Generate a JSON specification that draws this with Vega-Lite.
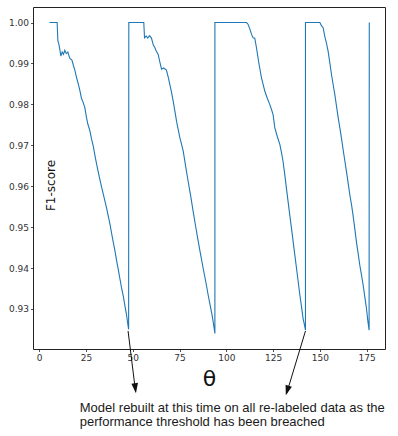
{
  "$schema": "https://vega.github.io/schema/vega-lite/v6.json",
  "width": 352,
  "height": 342,
  "autosize": {"type": "none"},
  "padding": {"left": 33, "top": 7, "right": 13, "bottom": 87},
  "background": "white",
  "config": {
    "view": {"stroke": "#222", "strokeWidth": 1},
    "axis": {
      "domain": false,
      "grid": false,
      "ticks": true,
      "tickSize": 2.5,
      "tickWidth": 0.8,
      "tickColor": "#222",
      "labelFont": "DejaVu Sans",
      "labelFontSize": 9,
      "labelColor": "#333",
      "labelPadding": 2,
      "titleFont": "DejaVu Sans",
      "titleFontWeight": "normal",
      "titleColor": "#111"
    }
  },
  "datasets": {
    "series": [
      {"i":1,"x":5.5,"f1":1.0},{"i":2,"x":9.6,"f1":1.0},{"i":3,"x":10.0,"f1":0.9955},{"i":4,"x":10.5,"f1":0.9948},
      {"i":5,"x":11.0,"f1":0.9935},{"i":6,"x":11.6,"f1":0.9918},{"i":7,"x":12.3,"f1":0.9928},{"i":8,"x":13.0,"f1":0.9922},
      {"i":9,"x":13.7,"f1":0.9932},{"i":10,"x":14.5,"f1":0.9924},{"i":11,"x":15.3,"f1":0.9928},{"i":12,"x":16.4,"f1":0.9912},
      {"i":13,"x":17.5,"f1":0.9908},{"i":14,"x":18.3,"f1":0.9895},{"i":15,"x":19.0,"f1":0.9885},{"i":16,"x":20.0,"f1":0.9865},
      {"i":17,"x":20.8,"f1":0.9852},{"i":18,"x":21.7,"f1":0.9835},{"i":19,"x":22.6,"f1":0.9815},{"i":20,"x":23.5,"f1":0.9805},
      {"i":21,"x":24.4,"f1":0.9792},{"i":22,"x":25.2,"f1":0.977},{"i":23,"x":26.0,"f1":0.9752},{"i":24,"x":27.1,"f1":0.9735},
      {"i":25,"x":28.0,"f1":0.9715},{"i":26,"x":28.9,"f1":0.9698},{"i":27,"x":30.0,"f1":0.967},{"i":28,"x":31.5,"f1":0.9636},
      {"i":29,"x":32.5,"f1":0.9615},{"i":30,"x":33.5,"f1":0.9595},{"i":31,"x":34.7,"f1":0.9572},{"i":32,"x":36.0,"f1":0.9547},
      {"i":33,"x":37.0,"f1":0.9525},{"i":34,"x":37.8,"f1":0.9508},{"i":35,"x":38.7,"f1":0.9485},{"i":36,"x":39.5,"f1":0.9465},
      {"i":37,"x":40.5,"f1":0.9442},{"i":38,"x":41.3,"f1":0.942},{"i":39,"x":42.2,"f1":0.9398},{"i":40,"x":43.1,"f1":0.9375},
      {"i":41,"x":44.0,"f1":0.9352},{"i":42,"x":45.0,"f1":0.933},{"i":43,"x":45.8,"f1":0.9308},{"i":44,"x":46.7,"f1":0.9285},
      {"i":45,"x":47.3,"f1":0.9265},{"i":46,"x":47.8,"f1":0.925},
      {"i":47,"x":47.9,"f1":1.0},{"i":48,"x":55.9,"f1":1.0},{"i":49,"x":56.3,"f1":0.9963},{"i":50,"x":57.2,"f1":0.9967},
      {"i":51,"x":58.0,"f1":0.9962},{"i":52,"x":59.0,"f1":0.9968},{"i":53,"x":60.0,"f1":0.9962},{"i":54,"x":61.0,"f1":0.9945},
      {"i":55,"x":61.8,"f1":0.9939},{"i":56,"x":62.6,"f1":0.993},{"i":57,"x":63.6,"f1":0.9922},{"i":58,"x":64.4,"f1":0.9905},
      {"i":59,"x":65.4,"f1":0.9886},{"i":60,"x":66.5,"f1":0.9889},{"i":61,"x":68.0,"f1":0.9884},{"i":62,"x":69.0,"f1":0.9866},
      {"i":63,"x":69.8,"f1":0.9849},{"i":64,"x":70.7,"f1":0.983},{"i":65,"x":71.6,"f1":0.9808},{"i":66,"x":72.5,"f1":0.9784},
      {"i":67,"x":73.4,"f1":0.9759},{"i":68,"x":74.3,"f1":0.9738},{"i":69,"x":75.2,"f1":0.9718},{"i":70,"x":76.1,"f1":0.9702},
      {"i":71,"x":77.0,"f1":0.9685},{"i":72,"x":78.3,"f1":0.9648},{"i":73,"x":79.6,"f1":0.9612},{"i":74,"x":81.0,"f1":0.9575},
      {"i":75,"x":82.3,"f1":0.9538},{"i":76,"x":83.6,"f1":0.9502},{"i":77,"x":85.0,"f1":0.9465},{"i":78,"x":86.3,"f1":0.9432},
      {"i":79,"x":87.6,"f1":0.94},{"i":80,"x":89.0,"f1":0.9367},{"i":81,"x":90.3,"f1":0.9334},{"i":82,"x":91.4,"f1":0.9308},
      {"i":83,"x":92.4,"f1":0.9285},{"i":84,"x":93.2,"f1":0.9262},{"i":85,"x":93.9,"f1":0.924},
      {"i":86,"x":93.9,"f1":1.0},{"i":87,"x":110.8,"f1":1.0},{"i":88,"x":111.6,"f1":0.9996},{"i":89,"x":112.5,"f1":0.9985},
      {"i":90,"x":113.5,"f1":0.9971},{"i":91,"x":114.3,"f1":0.9963},{"i":92,"x":115.2,"f1":0.9962},{"i":93,"x":116.1,"f1":0.9939},
      {"i":94,"x":116.8,"f1":0.9918},{"i":95,"x":117.5,"f1":0.9898},{"i":96,"x":118.8,"f1":0.9865},{"i":97,"x":119.7,"f1":0.9848},
      {"i":98,"x":120.6,"f1":0.9832},{"i":99,"x":121.9,"f1":0.9815},{"i":100,"x":123.2,"f1":0.98},{"i":101,"x":124.1,"f1":0.9788},
      {"i":102,"x":125.0,"f1":0.9775},{"i":103,"x":125.9,"f1":0.9743},{"i":104,"x":127.2,"f1":0.9722},{"i":105,"x":128.6,"f1":0.9702},
      {"i":106,"x":129.5,"f1":0.9682},{"i":107,"x":130.3,"f1":0.9661},{"i":108,"x":131.2,"f1":0.963},{"i":109,"x":132.1,"f1":0.9596},
      {"i":110,"x":133.0,"f1":0.9563},{"i":111,"x":133.9,"f1":0.953},{"i":112,"x":134.8,"f1":0.9498},{"i":113,"x":135.7,"f1":0.9465},
      {"i":114,"x":136.6,"f1":0.9432},{"i":115,"x":137.5,"f1":0.94},{"i":116,"x":138.4,"f1":0.9367},{"i":117,"x":139.3,"f1":0.9334},
      {"i":118,"x":140.2,"f1":0.9305},{"i":119,"x":141.0,"f1":0.9277},{"i":120,"x":141.7,"f1":0.9262},{"i":121,"x":142.3,"f1":0.9248},
      {"i":122,"x":142.3,"f1":1.0},{"i":123,"x":150.0,"f1":1.0},{"i":124,"x":150.9,"f1":0.9992},{"i":125,"x":151.7,"f1":0.9988},
      {"i":126,"x":152.6,"f1":0.9967},{"i":127,"x":153.5,"f1":0.995},{"i":128,"x":154.4,"f1":0.993},{"i":129,"x":155.3,"f1":0.9902},
      {"i":130,"x":156.2,"f1":0.9873},{"i":131,"x":157.1,"f1":0.9848},{"i":132,"x":158.0,"f1":0.9824},{"i":133,"x":158.9,"f1":0.9795},
      {"i":134,"x":159.8,"f1":0.9767},{"i":135,"x":160.7,"f1":0.9742},{"i":136,"x":161.5,"f1":0.9718},{"i":137,"x":162.8,"f1":0.9678},
      {"i":138,"x":164.2,"f1":0.9636},{"i":139,"x":165.1,"f1":0.9608},{"i":140,"x":166.0,"f1":0.9579},{"i":141,"x":166.9,"f1":0.9555},
      {"i":142,"x":167.7,"f1":0.953},{"i":143,"x":168.6,"f1":0.9498},{"i":144,"x":169.5,"f1":0.9465},{"i":145,"x":170.4,"f1":0.9437},
      {"i":146,"x":171.3,"f1":0.9408},{"i":147,"x":172.2,"f1":0.9384},{"i":148,"x":173.1,"f1":0.9359},{"i":149,"x":174.0,"f1":0.933},
      {"i":150,"x":174.9,"f1":0.9301},{"i":151,"x":175.6,"f1":0.9272},{"i":152,"x":176.3,"f1":0.9248},{"i":153,"x":176.4,"f1":1.0}
    ]
  },
  "layer": [
    {
      "data": {"name": "series"},
      "mark": {"type": "line", "stroke": "#1f77b4", "strokeWidth": 1.1, "interpolate": "linear"},
      "encoding": {
        "x": {
          "field": "x", "type": "quantitative",
          "scale": {"domain": [-3.3, 184.8], "nice": false, "zero": false},
          "axis": {"values": [0, 25, 50, 75, 100, 125, 150, 175], "title": "θ", "titleFontSize": 22,
                   "titleX": 176, "titleY": 36.5, "titleAlign": "center", "titleBaseline": "alphabetic"}
        },
        "y": {
          "field": "f1", "type": "quantitative",
          "scale": {"domain": [0.9202, 1.0038], "nice": false, "zero": false},
          "axis": {"values": [0.93, 0.94, 0.95, 0.96, 0.97, 0.98, 0.99, 1.0], "format": ".2f", "title": "F1-score",
                   "titleFontSize": 12, "titleX": 21, "titleY": 178, "titleAngle": 270,
                   "titleAlign": "center", "titleBaseline": "alphabetic"}
        },
        "order": {"field": "i", "type": "quantitative"}
      }
    },
    {
      "data": {"values": [{}]},
      "mark": {"type": "rule", "color": "#111", "strokeWidth": 1},
      "encoding": {
        "x": {"datum": 47.5, "type": "quantitative"},
        "y": {"datum": 0.9246, "type": "quantitative"},
        "x2": {"datum": 51.5},
        "y2": {"datum": 0.9098}
      }
    },
    {
      "data": {"values": [{}]},
      "mark": {"type": "point", "shape": "M-0.33,-1L0.33,-1L0,0Z", "size": 400, "filled": true, "color": "#111", "opacity": 1, "angle": -7},
      "encoding": {
        "x": {"datum": 51.7, "type": "quantitative"},
        "y": {"datum": 0.9094, "type": "quantitative"}
      }
    },
    {
      "data": {"values": [{}]},
      "mark": {"type": "rule", "color": "#111", "strokeWidth": 1},
      "encoding": {
        "x": {"datum": 142.3, "type": "quantitative"},
        "y": {"datum": 0.9246, "type": "quantitative"},
        "x2": {"datum": 132.2},
        "y2": {"datum": 0.9093}
      }
    },
    {
      "data": {"values": [{}]},
      "mark": {"type": "point", "shape": "M-0.33,-1L0.33,-1L0,0Z", "size": 400, "filled": true, "color": "#111", "opacity": 1, "angle": 17},
      "encoding": {
        "x": {"datum": 131.8, "type": "quantitative"},
        "y": {"datum": 0.9089, "type": "quantitative"}
      }
    },
    {
      "data": {"values": [{}]},
      "mark": {"type": "text", "align": "left", "baseline": "alphabetic", "font": "Liberation Sans", "fontSize": 13, "lineHeight": 14, "color": "#1a1a1a"},
      "encoding": {
        "x": {"datum": 21.7, "type": "quantitative"},
        "y": {"datum": 0.9048, "type": "quantitative"},
        "text": {"value": ["Model rebuilt at this time on all re-labeled data as the", "performance threshold has been breached"]}
      }
    }
  ]
}
